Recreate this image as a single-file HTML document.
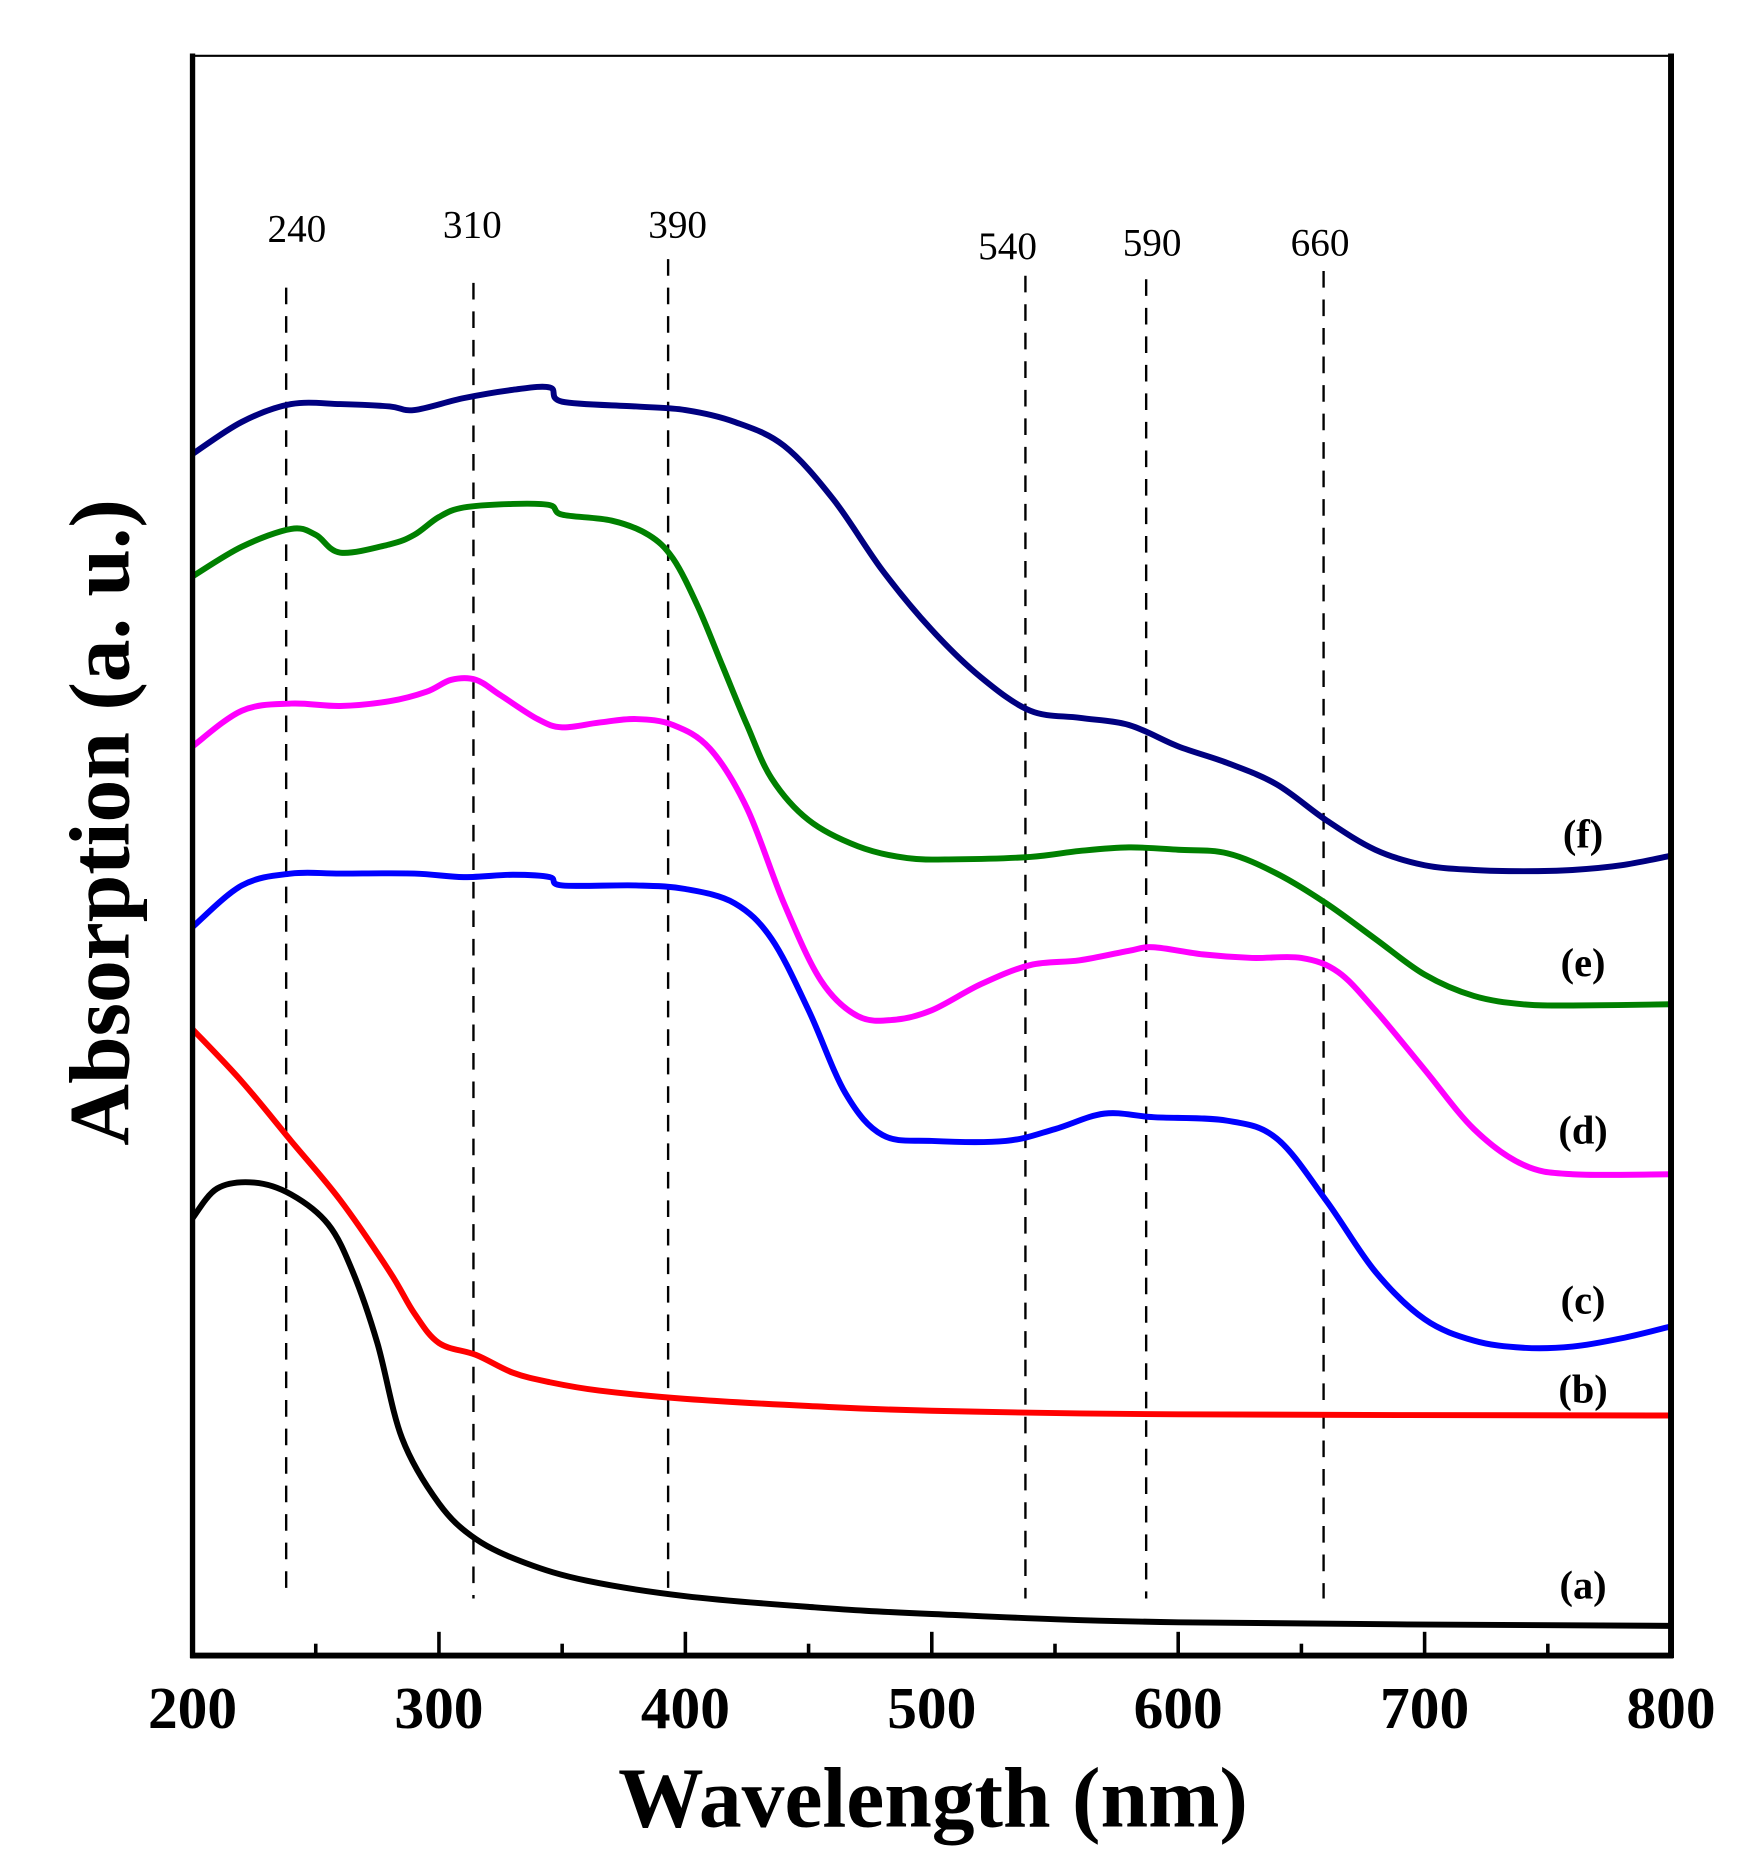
<!DOCTYPE html>
<html><head><meta charset="utf-8"><style>
html,body{margin:0;padding:0;background:#fff;}
svg{display:block;font-family:"Liberation Serif",serif;}
</style></head><body>
<svg id="chart" width="1741" height="1863" xmlns="http://www.w3.org/2000/svg">
<g id="root" transform="scale(1.1885)">
  <g id="marks"></g>
  <g id="frame">
    <line x1="162" y1="47" x2="1407" y2="47" stroke="#000" stroke-width="1.8"/>
    <line x1="162" y1="45" x2="162" y2="1395" stroke="#000" stroke-width="4.5"/>
    <line x1="1406" y1="45" x2="1406" y2="1395" stroke="#000" stroke-width="5"/>
    <line x1="160" y1="1393" x2="1408" y2="1393" stroke="#000" stroke-width="5"/>
  </g>
  <g id="axes"></g>
  <text x="785" y="1537" text-anchor="middle" font-size="72" font-weight="bold">Wavelength (nm)</text>
  <text transform="translate(108,692) rotate(-90)" text-anchor="middle" font-size="72" font-weight="bold">Absorption (a. u.)</text>
</g>
</svg>
<script>
const ticks=[200,300,400,500,600,700,800];
const minorTicks=[250,350,450,550,650,750];
const peaks=[238,314,393,538,587,659];
const peakLabels=["240","310","390","540","590","660"];
const peakLabelOffset=[9,-1,8,-15,5,-3];
const peakTop=[242,238,218,232,235,228];
const peakLabelY=[203,200,200,218,215,215];
const seriesNames=["a","b","c","d","e","f"];
const seriesColors=["#000000","#ff0000","#0000ff","#ff00ff","#008000","#000080"];
const wA=[200,210,225,240,255,265,275,285,300,315,335,360,400,450,500,600,800];
const vA=[368,393,398,388,363,323,263,183,128,98,78,63,50,41,35,28,25];
const wB=[200,220,240,260,280,290,300,315,330,345,365,400,450,500,600,800];
const vB=[527,483,433,383,323,288,263,253,238,230,223,216,210,206,203,202];
const wC=[200,220,240,260,290,310,330,345,350,380,400,420,435,450,465,480,500,530,550,570,590,620,640,660,680,700,720,740,760,780,800];
const vC=[613,648,658,658,658,655,657,655,648,648,645,633,603,543,473,438,433,433,443,456,453,450,435,383,323,283,265,259,260,267,277];
const wD=[200,220,240,260,280,295,305,315,325,340,350,365,380,395,410,425,440,455,470,485,500,520,540,560,580,590,610,630,650,665,680,700,720,740,760,800];
const vD=[765,795,801,799,803,811,821,821,808,788,781,785,788,783,763,713,633,568,538,535,543,565,581,585,593,596,590,587,587,575,543,493,443,413,405,405];
const wE=[200,220,240,250,260,280,290,300,310,330,345,350,370,385,395,405,415,425,435,450,470,490,510,540,560,580,600,620,640,660,680,700,720,740,760,800];
const vE=[908,933,948,943,928,935,943,958,966,969,968,960,955,943,923,883,833,783,738,703,681,671,670,672,677,680,678,675,658,633,603,573,555,548,547,548];
const wF=[200,220,240,260,280,290,310,330,345,350,380,400,420,440,460,480,500,520,540,560,580,600,620,640,660,680,700,720,740,760,780,800];
const vF=[1011,1038,1053,1053,1051,1048,1058,1065,1067,1055,1051,1048,1038,1018,973,913,863,823,795,789,783,765,751,733,703,678,665,661,660,661,665,673];
const labelY=[1345,1180,1105,962,821,713];

const NS="http://www.w3.org/2000/svg";
const xs=w=>162+(w-200)*(1406-162)/600;
const ys=v=>1393-v;
const marks=document.getElementById('marks');
const axes=document.getElementById('axes');
function mk(tag,attrs,parent){const e=document.createElementNS(NS,tag);for(const k in attrs)e.setAttribute(k,attrs[k]);parent.appendChild(e);return e;}

peaks.forEach((p,i)=>{
  const l=mk('line',{x1:xs(p),x2:xs(p),y1:peakTop[i],y2:1345,stroke:'#000','stroke-width':2,'stroke-dasharray':'14,10'},marks);
  
  
  const t=mk('text',{x:xs(p)+peakLabelOffset[i],y:peakLabelY[i],'text-anchor':'middle','font-size':33},marks);
  t.textContent=peakLabels[i];
  
  
});

function smooth(pts){
  let d='M'+pts[0][0]+','+pts[0][1];
  for(let i=0;i<pts.length-1;i++){
    const p0=pts[i-1]||pts[i],p1=pts[i],p2=pts[i+1],p3=pts[i+2]||p2;
    const c1=[p1[0]+(p2[0]-p0[0])/6,p1[1]+(p2[1]-p0[1])/6];
    const c2=[p2[0]-(p3[0]-p1[0])/6,p2[1]-(p3[1]-p1[1])/6];
    d+='C'+c1[0]+','+c1[1]+' '+c2[0]+','+c2[1]+' '+p2[0]+','+p2[1];
  }
  return d;
}
const allW=[wA,wB,wC,wD,wE,wF], allV=[vA,vB,vC,vD,vE,vF];
allW.forEach((ws,i)=>{
  const pts=ws.map((w,j)=>[xs(w),ys(allV[i][j])]);
  const p=mk('path',{d:smooth(pts),fill:'none',stroke:seriesColors[i],'stroke-width':5,'stroke-linejoin':'round'},marks);
  
  
  const t=mk('text',{x:1332,y:labelY[i],'text-anchor':'middle','font-size':34,'font-weight':'bold'},marks);
  t.textContent='('+seriesNames[i]+')';
  
  
});

ticks.forEach(t=>{
  const l=mk('line',{x1:xs(t),x2:xs(t),y1:1393,y2:1373,stroke:'#000','stroke-width':3},axes);
  
  
  const tx=mk('text',{x:xs(t),y:1454,'text-anchor':'middle','font-size':50,'font-weight':'bold'},axes);
  tx.textContent=t;
  
  
});
minorTicks.forEach(t=>{
  const l=mk('line',{x1:xs(t),x2:xs(t),y1:1393,y2:1383,stroke:'#000','stroke-width':3},axes);
  
  
});
</script>
</body></html>
